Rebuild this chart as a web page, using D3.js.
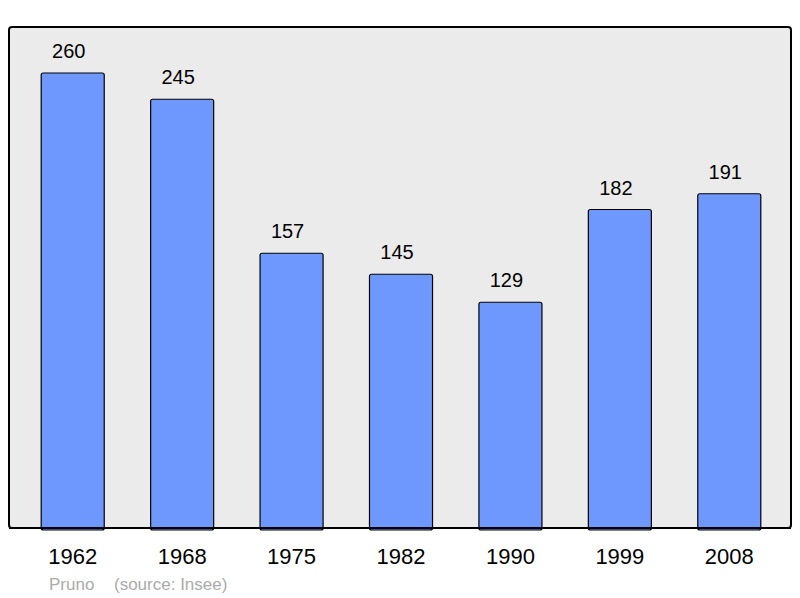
<!DOCTYPE html>
<html>
<head>
<meta charset="utf-8">
<script src="https://cdn.jsdelivr.net/npm/d3@7"></script>
<style>
  body { margin: 0; background: #fff; }
  text { font-family: "Liberation Sans", Arial, sans-serif; }
</style>
</head>
<body>
<svg id="svg" width="800" height="598"></svg>
<script>
// data
var years = ["1962", "1968", "1975", "1982", "1990", "1999", "2008"];
var population = [260, 245, 157, 145, 129, 182, 191];

var svg = d3.select("#svg");

// background panel
svg.append("rect")
    .attr("x", 9)
    .attr("y", 27)
    .attr("width", 782)
    .attr("height", 501)
    .attr("rx", 3)
    .attr("fill", "#ebebeb")
    .attr("stroke", "#000")
    .attr("stroke-width", 2);

var x = d3.scaleBand()
    .domain(years)
    .range([18, 784])
    .paddingInner(0.424)
    .paddingOuter(0.212);

var y = d3.scaleLinear()
    .domain([0, 260])
    .range([528, 73]);

var data = years.map(function (d, i) {
    return {year: d, value: population[i]};
});

// bars
svg.selectAll(".bar")
    .data(data)
    .enter().append("rect")
    .attr("class", "bar")
    .attr("x", function (d) { return x(d.year); })
    .attr("y", function (d) { return y(d.value); })
    .attr("width", x.bandwidth())
    .attr("height", function (d) { return y(0) - y(d.value) + 2; })
    .attr("rx", 2)
    .attr("fill", "#6f98ff")
    .attr("stroke", "#000")
    .attr("stroke-width", 1.2);

// redraw bottom edge of panel over bars
svg.append("line")
    .attr("x1", 9).attr("x2", 791)
    .attr("y1", 528).attr("y2", 528)
    .attr("stroke", "#000")
    .attr("stroke-width", 2);

// value labels
svg.selectAll(".val")
    .data(data)
    .enter().append("text")
    .attr("class", "val")
    .attr("x", function (d) { return x(d.year) + x.bandwidth() / 2 - 4; })
    .attr("y", function (d) { return y(d.value) - 15; })
    .attr("text-anchor", "middle")
    .style("font-size", "20px")
    .attr("fill", "#000")
    .text(function (d) { return d.value; });

// x axis labels
var xAxis = svg.append("g")
    .attr("transform", "translate(0,528)")
    .call(d3.axisBottom(x).tickSize(0).tickPadding(20));
xAxis.select(".domain").remove();
xAxis.selectAll("text")
    .style("font-size", "22px")
    .style("font-family", "Liberation Sans, Arial, sans-serif")
    .attr("fill", "#000");

// source line
svg.append("text")
    .attr("x", 49)
    .attr("y", 590)
    .style("font-size", "17px")
    .attr("fill", "#aaaaaa")
    .text("Pruno");
svg.append("text")
    .attr("x", 114)
    .attr("y", 590)
    .style("font-size", "17px")
    .attr("fill", "#aaaaaa")
    .text("(source: Insee)");
</script>
</body>
</html>
